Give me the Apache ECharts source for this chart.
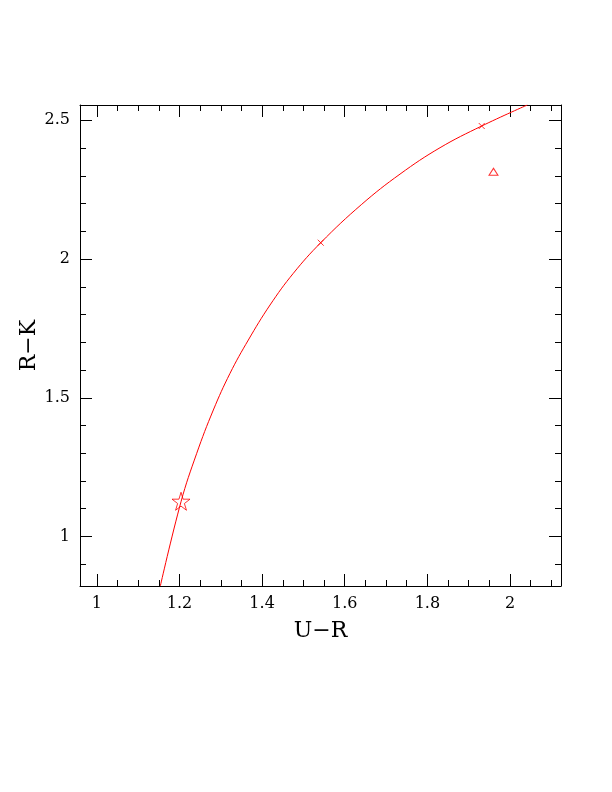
<!DOCTYPE html>
<html><head><meta charset="utf-8">
<script src="https://cdn.jsdelivr.net/npm/echarts@6/dist/echarts.min.js"></script>
<style>html,body{margin:0;padding:0;background:#fff}#c{width:612px;height:792px}</style>
</head><body><div id="c"></div>
<script>
// tick values
const xLabelTicks = [1, 1.2, 1.4, 1.6, 1.8, 2];
const xMinorTicks = [1.05, 1.1, 1.15, 1.25, 1.3, 1.35, 1.45, 1.5, 1.55, 1.65, 1.7, 1.75, 1.85, 1.9, 1.95, 2.05, 2.1];
const yLabelTicks = [1, 1.5, 2, 2.5];
const yMinorTicks = [0.9, 1.1, 1.2, 1.3, 1.4, 1.6, 1.7, 1.8, 1.9, 2.1, 2.2, 2.3, 2.4];
// curve
const curveX = [1.1537, 1.2038, 1.2418, 1.2820, 1.3224, 1.3667, 1.4192, 1.4756, 1.5419, 1.6411, 1.7338, 1.8306, 1.9315, 2.0419];
const curveY = [0.8216, 1.1254, 1.2998, 1.4559, 1.5881, 1.7081, 1.8342, 1.9485, 2.0587, 2.1971, 2.3060, 2.4011, 2.4793, 2.5550];
// markers
const starX = [1.2038];
const starY = [1.127];
const crossX = [1.5419, 1.9315];
const crossY = [2.0587, 2.4793];
const triX = [1.960];
const triY = [2.3146];

const X_MIN = 0.9593, X_MAX = 2.1234, Y_MIN = 0.8216, Y_MAX = 2.555;
const FONT = 'DejaVu Serif';
const RED = '#ff0000';

function axis(kind, pos, ticks, len, withLine, withLabels, extra) {
  const a = {
    type: 'value', position: pos,
    min: kind === 'x' ? X_MIN : Y_MIN,
    max: kind === 'x' ? X_MAX : Y_MAX,
    axisLine: { show: withLine, onZero: false, lineStyle: { color: '#000', width: 1 } },
    axisTick: { show: true, inside: true, length: len, customValues: ticks, lineStyle: { color: '#000', width: 1 } },
    axisLabel: withLabels ? { show: true, customValues: ticks, margin: 10, color: '#000', fontFamily: FONT, fontSize: 16 } : { show: false },
    splitLine: { show: false },
    minorTick: { show: false },
    silent: true
  };
  return Object.assign(a, extra || {});
}
const pairs = (xs, ys) => xs.map((x, i) => [x, ys[i]]);

const chart = echarts.init(document.getElementById('c'), null, { renderer: 'canvas' });
chart.setOption({
  animation: false,
  backgroundColor: '#fff',
  grid: { left: 80, right: 51, top: 105, bottom: 206, containLabel: false, outerBoundsMode: 'none' },
  xAxis: [
    axis('x', 'bottom', xLabelTicks, 12, true, true, {
      name: 'U\u2212R', nameLocation: 'middle', nameGap: 34, nameMoveOverlap: false,
      nameTextStyle: { fontFamily: FONT, fontSize: 22, color: '#000' }
    }),
    axis('x', 'bottom', xMinorTicks, 6, false, false),
    axis('x', 'top', xLabelTicks, 12, true, false),
    axis('x', 'top', xMinorTicks, 6, false, false)
  ],
  yAxis: [
    axis('y', 'left', yLabelTicks, 12, true, true, {
      name: 'R\u2212K', nameLocation: 'middle', nameGap: 40, nameMoveOverlap: false,
      nameTextStyle: { fontFamily: FONT, fontSize: 22, color: '#000' }
    }),
    axis('y', 'left', yMinorTicks, 6, false, false),
    axis('y', 'right', yLabelTicks, 12, true, false),
    axis('y', 'right', yMinorTicks, 6, false, false)
  ],
  series: [
    {
      type: 'line', xAxisIndex: 0, yAxisIndex: 0,
      data: pairs(curveX, curveY), showSymbol: false, smooth: 0.4, clip: true,
      lineStyle: { color: RED, width: 1 }, silent: true
    },
    {
      type: 'scatter', xAxisIndex: 0, yAxisIndex: 0, data: pairs(starX, starY),
      symbol: 'path://M50,0 L61,35 L98,35 L68,57 L79,91 L50,70 L21,91 L32,57 L2,35 L39,35 Z',
      symbolSize: 18, itemStyle: { color: 'rgba(0,0,0,0)', borderColor: RED, borderWidth: 1 }, silent: true
    },
    {
      type: 'scatter', xAxisIndex: 0, yAxisIndex: 0, data: pairs(crossX, crossY),
      symbol: 'path://M0,0L10,10M0,10L10,0',
      symbolSize: 6, itemStyle: { color: 'rgba(0,0,0,0)', borderColor: RED, borderWidth: 1 }, silent: true
    },
    {
      type: 'scatter', xAxisIndex: 0, yAxisIndex: 0, data: pairs(triX, triY),
      symbol: 'triangle', symbolSize: [9, 7],
      itemStyle: { color: 'rgba(0,0,0,0)', borderColor: RED, borderWidth: 1 }, silent: true
    }
  ]
});
</script>
</body></html>
